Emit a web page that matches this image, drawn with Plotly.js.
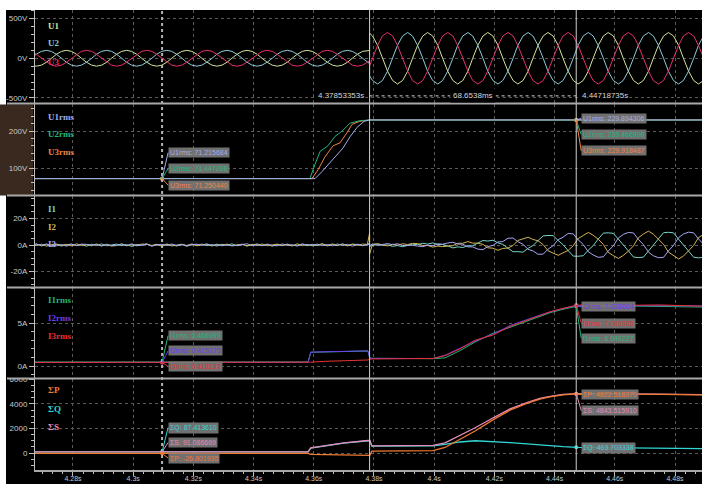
<!DOCTYPE html>
<html><head><meta charset="utf-8">
<script src="https://cdn.plot.ly/plotly-3.0.1.min.js"></script>
<style>html,body{margin:0;padding:0;background:#fff;}#chart{width:702px;height:484px;}</style>
</head><body><div id="chart"></div>
<script>
// ---------- sample times (s) for the waveform panels ----------
const t = [
4.2645,4.2662,4.2678,4.2695,4.2712,4.2728,
4.2745,4.2762,4.2778,4.2795,4.2812,4.2828,
4.2845,4.2862,4.2878,4.2895,4.2912,4.2928,
4.2945,4.2962,4.2978,4.2995,4.3012,4.3028,
4.3045,4.3062,4.3078,4.3095,4.3112,4.3128,
4.3145,4.3162,4.3178,4.3195,4.3212,4.3228,
4.3245,4.3262,4.3278,4.3295,4.3312,4.3328,
4.3345,4.3362,4.3378,4.3395,4.3412,4.3428,
4.3445,4.3462,4.3478,4.3495,4.3512,4.3528,
4.3545,4.3562,4.3578,4.3595,4.3612,4.3628,
4.3645,4.3662,4.3678,4.3695,4.3712,4.3728,
4.3745,4.3762,4.3778,4.37853,4.37853,4.3795,4.3812,4.3828,
4.3845,4.3862,4.3878,4.3895,4.3912,4.3928,
4.3945,4.3962,4.3978,4.3995,4.4012,4.4028,
4.4045,4.4062,4.4078,4.4095,4.4112,4.4128,
4.4145,4.4162,4.4178,4.4195,4.4212,4.4228,
4.4245,4.4262,4.4278,4.4295,4.4312,4.4328,
4.4345,4.4362,4.4378,4.4395,4.4412,4.4428,
4.4445,4.4462,4.4478,4.4495,4.4512,4.4528,
4.4545,4.4562,4.4578,4.4595,4.4612,4.4628,
4.4645,4.4662,4.4678,4.4695,4.4712,4.4728,
4.4745,4.4762,4.4778,4.4795,4.4812,4.4828,
4.4845,4.4862,4.4878,4.4895,4.4912,4.4928];

// ---------- phase voltages (V) ----------
const U1 = [
-50,-87,-100,-87,-50,0, 50,87,100,87,50,0,
-50,-87,-100,-87,-50,0, 50,87,100,87,50,0,
-50,-87,-100,-87,-50,0, 50,87,100,87,50,0,
-50,-87,-100,-87,-50,0, 50,87,100,87,50,0,
-50,-87,-100,-87,-50,0, 50,87,100,87,50,0,
-50,-87,-100,-87,-50,0,
50,87,100,98,317,281,163,0,
-163,-281,-325,-281,-163,0, 163,281,325,281,163,0,
-163,-281,-325,-281,-163,0, 163,281,325,281,163,0,
-163,-281,-325,-281,-163,0, 163,281,325,281,163,0,
-163,-281,-325,-281,-163,0, 163,281,325,281,163,0,
-163,-281,-325,-281,-163,0, 163,281,325,281,163,0,
-163,-281,-325,-281,-163,0];
const U2 = [
-50,0,50,87,100,87, 50,0,-50,-87,-100,-87,
-50,0,50,87,100,87, 50,0,-50,-87,-100,-87,
-50,0,50,87,100,87, 50,0,-50,-87,-100,-87,
-50,0,50,87,100,87, 50,0,-50,-87,-100,-87,
-50,0,50,87,100,87, 50,0,-50,-87,-100,-87,
-50,0,50,87,100,87,
50,0,-50,-68,-220,-281,-325,-281,
-163,0,163,281,325,281, 163,0,-163,-281,-325,-281,
-163,0,163,281,325,281, 163,0,-163,-281,-325,-281,
-163,0,163,281,325,281, 163,0,-163,-281,-325,-281,
-163,0,163,281,325,281, 163,0,-163,-281,-325,-281,
-163,0,163,281,325,281, 163,0,-163,-281,-325,-281,
-163,0,163,281,325,281];
const U3 = [
100,87,50,0,-50,-87, -100,-87,-50,0,50,87,
100,87,50,0,-50,-87, -100,-87,-50,0,50,87,
100,87,50,0,-50,-87, -100,-87,-50,0,50,87,
100,87,50,0,-50,-87, -100,-87,-50,0,50,87,
100,87,50,0,-50,-87, -100,-87,-50,0,50,87,
100,87,50,0,-50,-87,
-100,-87,-50,-30,-98,0,163,281,
325,281,163,0,-163,-281, -325,-281,-163,0,163,281,
325,281,163,0,-163,-281, -325,-281,-163,0,163,281,
325,281,163,0,-163,-281, -325,-281,-163,0,163,281,
325,281,163,0,-163,-281, -325,-281,-163,0,163,281,
325,281,163,0,-163,-281, -325,-281,-163,0,163,281,
325,281,163,0,-163,-281];

// ---------- phase currents (A) ----------
const I1 = [
0.6,-0.4,0.9,-0.7,0.3,-1.0, 0.5,-0.8,0.2,0.7,-0.5,0.4,
-0.9,0.6,-0.3,0.8,-0.6,0.1, 0.7,-0.5,0.4,-1.1,0.5,-0.2,
0.9,-0.6,0.3,-0.4,0.8,-0.7, 0.2,0.6,-0.9,0.4,-0.3,0.7,
-0.5,0.3,-0.8,0.6,-0.2,0.9, -0.6,0.4,-0.7,0.2,0.8,-0.4,
0.5,-0.9,0.3,-0.5,0.7,-0.3, -0.2,0.8,-0.6,0.5,-0.4,1.0,
-0.7,0.3,-0.5,0.9,-0.3,0.6,
0.4,-0.6,0.3,1.2,-1.0,-0.5,0.6,-0.3,
0.1,-1.0,-0.4,-1.3,-0.2,0.7, 0.2,1.3,0.7,1.6,0.4,0.4,
-0.7,-2.2,-1.4,-1.9,-0.6,-0.6, 1.5,3.4,3.0,3.6,1.6,0.5,
-2.4,-5.1,-5.0,-5.4,-2.5,-0.4, 3.3,6.9,7.2,7.1,3.4,0.3,
-4.2,-8.4,-8.5,-8.1,-3.9,-0.5, 4.5,9.0,9.2,8.8,4.4,0.4,
-4.4,-9.1,-9.5,-9.2,-4.7,-0.3, 4.7,9.3,9.6,9.2,4.4,0.3,
-4.6,-9.2,-9.7,-9.3,-4.5,-0.4];
const I2 = [
-0.5,0.8,-0.3,0.6,-0.9,0.4, 0.7,-0.2,0.5,-0.7,0.9,-0.4,
0.3,-0.6,0.8,-0.5,0.2,-0.8, -0.4,0.9,-0.6,0.3,-0.3,0.7,
0.5,-0.4,0.6,-0.9,0.4,-0.2, -0.7,0.5,-0.3,0.8,-0.6,0.3,
0.6,-0.8,0.4,-0.2,0.7,-0.5, 0.3,0.6,-0.7,0.5,-0.4,0.8,
-0.6,0.2,0.7,-0.3,0.5,-0.8, 0.9,-0.5,0.4,-0.6,0.3,0.7,
-0.4,0.8,-0.2,0.5,-0.7,0.6,
-0.3,0.7,0.4,9.0,-7.0,0.6,1.0,0.4,
-0.7,0.6,-0.1,0.9,0.4,1.2, 1.1,-0.4,-0.3,-1.6,-0.8,-1.2,
-0.6,-0.5,1.3,1.3,2.6,1.4, 1.4,0.5,-2.1,-2.4,-4.0,-2.6,
-2.3,-0.4,3.4,4.5,5.9,4.2, 3.2,0.3,-4.3,-6.1,-7.8,-5.9,
-4.1,-0.5,4.8,7.2,9.5,7.4, 4.4,0.4,-5.5,-8.0,-10.1,-7.9,
-4.7,-0.6,5.4,8.3,10.5,8.2, 4.6,0.5,-5.3,-8.1,-10.5,-8.4,
-4.5,-0.3,5.6,8.2,10.4,8.1];
const I3 = [
0.3,-0.7,0.5,-0.2,0.8,-0.5, -0.6,0.4,-0.9,0.6,-0.3,0.7,
0.5,-0.2,0.4,-0.8,0.6,-0.4, -0.3,0.7,-0.5,0.9,-0.6,0.2,
0.6,-0.9,0.2,0.5,-0.4,0.8, -0.5,0.3,-0.7,0.4,0.6,-0.3,
0.8,-0.4,0.6,-0.6,0.2,-0.7, -0.2,0.5,0.9,-0.5,0.3,-0.6,
0.7,-0.3,-0.6,0.8,-0.4,0.2, -0.8,0.6,0.3,-0.2,0.7,-0.5,
0.4,-0.6,0.8,-0.3,0.5,-0.9,
0.6,-0.4,0.2,0.5,-0.5,0.7,-0.3,0.5,
1.1,0.2,1.0,-0.4,-0.2,-0.2, -0.8,-1.3,-0.1,-0.6,0.9,0.6,
1.5,2.1,0.7,0.6,-1.4,-1.4, -3.1,-3.5,-1.2,-0.3,2.3,2.6,
5.1,5.3,2.5,0.6,-3.3,-4.4, -7.0,-6.9,-3.2,-0.5,4.1,5.9,
8.7,8.4,4.0,0.4,-5.1,-7.5, -9.3,-8.9,-4.6,-0.6,5.3,8.0,
9.5,9.1,4.4,0.3,-5.4,-8.1, -9.6,-9.3,-4.5,-0.3,5.6,8.3,
9.7,9.2,4.6,0.6,-5.5,-8.4];

// ---------- RMS voltages (V) ----------
const tU1rms = [4.2660,4.3604,4.3627,4.3647,4.3670,4.3697,4.3720,4.3744,4.3767,4.3785,4.4895];
const U1rms  = [71.22,71.22,90,108,130,154,184,210,226,229.9,229.9];
const tU2rms = [4.2660,4.3587,4.3604,4.3621,4.3647,4.3670,4.3694,4.3720,4.3753,4.3785,4.4895];
const U2rms  = [71.45,71.45,110,145,160,185,200,221,228,229.5,229.5];
const tU3rms = [4.2660,4.3594,4.3614,4.3637,4.3664,4.3687,4.3710,4.3727,4.3753,4.3785,4.4895];
const U3rms  = [71.25,71.25,95,130,160,168,195,218,226,229.9,229.9];

// ---------- RMS currents (A) and powers ----------
const tS = [4.2660,4.3581,4.3590,4.3640,4.3700,4.3780,4.3786,4.3793,4.3900,4.3996,4.4036,4.4086,4.4136,4.4195,4.4252,4.4308,4.4351,4.4385,4.4428,4.4474,4.4617,4.4750,4.4895];
const I1rms = [0.47,0.47,1.60,1.65,1.70,1.75,0.95,0.90,0.88,0.85,0.95,1.8,2.8,3.8,4.5,5.2,5.8,6.2,6.6,6.95,7.0,6.95,6.85];
const I2rms = [0.415,0.415,1.62,1.67,1.72,1.76,0.93,0.88,0.88,0.88,1.25,2.1,2.9,3.7,4.7,5.4,5.9,6.3,6.7,7.03,7.03,7.0,7.0];
const I3rms = [0.418,0.418,0.45,0.55,0.62,0.70,0.80,0.82,0.85,0.88,1.2,2.0,3.0,3.6,4.6,5.3,5.9,6.3,6.7,7.09,7.05,7.1,6.95];
const Psum = [-26,-26,-120,-150,-170,-190,-190,150,160,200,450,1100,1800,2700,3500,4050,4400,4580,4750,4822,4820,4790,4750];
const Qsum = [87,87,400,600,800,1000,1000,560,570,580,700,900,1000,950,850,750,650,580,520,463,420,390,350];
const Ssum = [91,91,420,620,820,1020,1020,580,590,620,830,1420,2060,2860,3600,4120,4450,4620,4780,4843,4840,4810,4770];

// ---------- cursors & read-outs ----------
const cursorA = 4.3096, cursor1 = 4.37853353, cursor2 = 4.44718735;
const uRmsNames = ['U1rms','U2rms','U3rms'];
const uRmsAtA = [71.215684, 71.447208, 71.250440];
const uRmsAt2 = [229.894306, 229.466906, 229.918487];
const iRmsNames = ['I1rms','I2rms','I3rms'];
const iRmsAtA = [0.466093, 0.415175, 0.418137];
const iRmsAt2 = [6.949227, 7.028664, 7.089995];
const sumNames = ['ΣQ','ΣS','ΣP'];
const sumAtA = [87.413610, 91.086669, -26.801935];
const sumAt2 = [463.703338, 4843.515910, 4822.518370];

// ---------- axis ticks ----------
const xTickVals = [4.28,4.30,4.32,4.34,4.36,4.38,4.40,4.42,4.44,4.46,4.48];
const xTickText = ['4.28s','4.3s','4.32s','4.34s','4.36s','4.38s','4.4s','4.42s','4.44s','4.46s','4.48s'];
const y1Ticks = [-500,0,500], y1Text = ['-500V','0V','500V'];
const y2Ticks = [100,200], y2Text = ['100V','200V'];
const y3Ticks = [-20,0,20], y3Text = ['-20A','0A','20A'];
const y4Ticks = [0,5], y4Text = ['0A','5A'];
const y5Ticks = [0,2000,4000,6000], y5Text = ['0','2000','4000','6000'];

// ---------- styling ----------
const C = {U1:'#d2e49a',U2:'#8ccad6',U3:'#e8306c',I1:'#74d6c6',I2:'#d4b450',I3:'#a6a6f4',
  U1rms:'#a4acea',U2rms:'#22b87a',U3rms:'#f08444',I1rms:'#22b87a',I2rms:'#6e3cf0',I3rms:'#e63232',
  P:'#f07a30',Q:'#32d6d6',S:'#e68ab8'};
const sumColors = [C.Q, C.S, C.P];
const axFont = {family:'Liberation Sans, Arial, sans-serif', size:8, color:'#c8c8c8'};
const tickCol = '#c0c0c0', gridCol = '#5a5a5a';

function ln(x,y,ya,color,w){return {type:'scatter',mode:'lines',x:x,y:y,xaxis:'x',yaxis:ya,line:{color:color,width:w||1},hoverinfo:'skip',showlegend:false};}
function dots(x,ys,ya,colors){return {type:'scatter',mode:'markers',x:x,y:ys,xaxis:'x',yaxis:ya,marker:{color:colors,size:4},hoverinfo:'skip',showlegend:false};}

const traces = [
  ln(t,U1,'y',C.U1), ln(t,U2,'y',C.U2), ln(t,U3,'y',C.U3),
  ln(tU3rms,U3rms,'y2',C.U3rms), ln(tU2rms,U2rms,'y2',C.U2rms), ln(tU1rms,U1rms,'y2',C.U1rms),
  ln(t,I1,'y3',C.I1), ln(t,I2,'y3',C.I2), ln(t,I3,'y3',C.I3),
  ln(tS,I1rms,'y4',C.I1rms), ln(tS,I2rms,'y4',C.I2rms), ln(tS,I3rms,'y4',C.I3rms),
  ln(tS,Qsum,'y5',C.Q,1.3), ln(tS,Ssum,'y5',C.S,1.3), ln(tS,Psum,'y5',C.P,1.3),
  dots([cursorA,cursorA,cursorA,cursor2,cursor2,cursor2], uRmsAtA.concat(uRmsAt2),'y2',[C.U1rms,C.U2rms,C.U3rms,C.U1rms,C.U2rms,C.U3rms]),
  dots([cursorA,cursorA,cursorA,cursor2,cursor2,cursor2], iRmsAtA.concat(iRmsAt2),'y4',[C.I1rms,C.I2rms,C.I3rms,C.I1rms,C.I2rms,C.I3rms]),
  dots([cursorA,cursorA,cursorA,cursor2,cursor2,cursor2], sumAtA.concat(sumAt2),'y5',sumColors.concat(sumColors))
];

function yax(domain, range, vals, text, minorD){
  return {domain:domain, range:range, anchor:'x', tickmode:'array', tickvals:vals, ticktext:text,
    ticks:'outside', ticklen:5, tickcolor:tickCol, tickwidth:1, tickfont:axFont,
    showline:true, linecolor:tickCol, linewidth:1, showgrid:true, gridcolor:gridCol, griddash:'dot', gridwidth:1,
    zeroline:false, fixedrange:true,
    minor:{dtick:minorD, tick0:0, ticks:'outside', ticklen:3, tickcolor:tickCol, showgrid:false}};
}

const ann = [];
function readout(x, val, yref, name, color, ax, ay){
  ann.push({x:x, y:val, xref:'x', yref:yref, text:name+': '+val.toFixed(6), showarrow:true, arrowhead:0,
    arrowwidth:1, arrowcolor:color, ax:ax, ay:ay, xanchor:'left', yanchor:'middle',
    bgcolor:'rgba(122,122,122,0.92)', borderpad:1, font:{family:'Liberation Sans, Arial, sans-serif', size:7, color:color}});
}
const uCols=[C.U1rms,C.U2rms,C.U3rms], iCols=[C.I1rms,C.I2rms,C.I3rms];
const uA_ay=[-26,-10,6.5], u2_ay=[-1.5,14.5,31];
const iA_ay=[-26.5,-11.5,4], i2_ay=[32,1.4,18];
const sA_ay=[-24.4,-9.4,4.7], s2_ay=[0.2,16.9,0.6];
for(let k=0;k<3;k++){
  readout(cursorA,uRmsAtA[k],'y2',uRmsNames[k],uCols[k],6,uA_ay[k]);
  readout(cursor2,uRmsAt2[k],'y2',uRmsNames[k],uCols[k],5,u2_ay[k]);
  readout(cursorA,iRmsAtA[k],'y4',iRmsNames[k],iCols[k],6,iA_ay[k]);
  readout(cursor2,iRmsAt2[k],'y4',iRmsNames[k],iCols[k],5,i2_ay[k]);
  readout(cursorA,sumAtA[k],'y5',sumNames[k],sumColors[k],6,sA_ay[k]);
  readout(cursor2,sumAt2[k],'y5',sumNames[k],sumColors[k],5,s2_ay[k]);
}
// cursor time labels
const tFont = {family:'Liberation Sans, Arial, sans-serif', size:8, color:'#d8d8d8'};
const yTimeRow = -475;
ann.push({x:cursor1,y:yTimeRow,xref:'x',yref:'y',text:cursor1.toFixed(8)+'s',showarrow:false,xanchor:'right',xshift:-4,bgcolor:'#000',font:tFont});
ann.push({x:cursor2,y:yTimeRow,xref:'x',yref:'y',text:cursor2.toFixed(8)+'s',showarrow:false,xanchor:'left',xshift:4,bgcolor:'#000',font:tFont});
ann.push({x:(cursor1+cursor2)/2,y:yTimeRow,xref:'x',yref:'y',text:((cursor2-cursor1)*1000).toFixed(4)+'ms',showarrow:false,bgcolor:'#000',borderpad:2,font:tFont});

// channel labels
const labelDefs = [
  ['U1',C.U1,0.965],['U2',C.U2,0.928],['U3',C.U3,0.887],
  ['U1rms',C.U1rms,0.767],['U2rms',C.U2rms,0.730],['U3rms',C.U3rms,0.691],
  ['I1',C.I1,0.567],['I2',C.I2,0.528],['I3',C.I3,0.491],
  ['I1rms',C.I1rms,0.370],['I2rms',C.I2rms,0.330],['I3rms',C.I3rms,0.291],
  ['ΣP',C.P,0.174],['ΣQ',C.Q,0.133],['ΣS',C.S,0.093]];
labelDefs.forEach(d=>ann.push({x:0.017,y:d[2],xref:'paper',yref:'paper',text:'<b>'+d[0]+'</b>',showarrow:false,
  xanchor:'left',yanchor:'middle',font:{family:'Liberation Serif, DejaVu Serif, serif',size:9,color:d[1]}}));

const px = v => (v-35)/667, py = v => (470-v)/460;
const shapes = [
  {type:'rect',xref:'paper',yref:'paper',x0:-0.06,x1:1.01,y0:1,y1:1.05,fillcolor:'#fff',line:{width:0},layer:'below'},
  {type:'rect',xref:'paper',yref:'paper',x0:-0.06,x1:px(6),y0:-0.05,y1:1.05,fillcolor:'#fff',line:{width:0},layer:'below'},
  {type:'rect',xref:'paper',yref:'paper',x0:-0.06,x1:px(33),y0:py(195.5),y1:py(104.5),fillcolor:'#3a291e',line:{width:0},layer:'below'},
  {type:'rect',xref:'paper',yref:'paper',x0:px(6),x1:px(30),y0:py(379),y1:py(371),fillcolor:'#000',line:{width:0},layer:'above'},
  {type:'line',xref:'x',yref:'paper',x0:cursorA,x1:cursorA,y0:0,y1:1,line:{color:'#b4b4b4',width:2,dash:'dot'},layer:'above'},
  {type:'line',xref:'x',yref:'paper',x0:cursor1,x1:cursor1,y0:0,y1:1,line:{color:'#d0d0d0',width:1},layer:'above'},
  {type:'line',xref:'x',yref:'paper',x0:cursor2,x1:cursor2,y0:0,y1:1,line:{color:'#d0d0d0',width:1},layer:'above'},
  {type:'line',xref:'x',yref:'y',x0:cursor1,x1:cursor2,y0:yTimeRow,y1:yTimeRow,line:{color:'#d0d0d0',width:1,dash:'dot'},layer:'above'}
];
[103.5,195.5,287.5,378.5].forEach(v=>shapes.push({type:'line',xref:'paper',yref:'paper',x0:px(7),x1:1,y0:py(v),y1:py(v),line:{color:'#a8a8a8',width:2},layer:'above'}));

const layout = {
  width:702, height:484, margin:{l:35,r:0,t:10,b:14},
  paper_bgcolor:'#000', plot_bgcolor:'#000', showlegend:false,
  xaxis:{range:[4.26738,4.48897], domain:[0,1], anchor:'y5', tickmode:'array', tickvals:xTickVals, ticktext:xTickText,
    ticks:'outside', ticklen:4, tickcolor:tickCol, tickfont:{family:'Liberation Sans, Arial, sans-serif', size:7, color:'#c8c8c8'},
    ticklabelstandoff:-3, showline:true, linecolor:'#a8a8a8', linewidth:2,
    showgrid:true, gridcolor:gridCol, griddash:'dot', zeroline:false, fixedrange:true,
    minor:{dtick:0.02/6, tick0:4.28, ticks:'outside', ticklen:2, tickcolor:tickCol, showgrid:false}},
  yaxis: yax([py(103.5),1],[-571,609],y1Ticks,y1Text,100),
  yaxis2:yax([py(195.5),py(103.5)],[25.7,274.3],y2Ticks,y2Text,20),
  yaxis3:yax([py(287.5),py(195.5)],[-32.1,37.4],y3Ticks,y3Text,5),
  yaxis4:yax([py(378.5),py(287.5)],[-1.45,9.13],y4Ticks,y4Text,1),
  yaxis5:yax([0,py(378.5)],[-1387,6080],y5Ticks,y5Text,500),
  annotations:ann, shapes:shapes
};
Plotly.newPlot('chart', traces, layout, {staticPlot:true, displayModeBar:false});
</script></body></html>
